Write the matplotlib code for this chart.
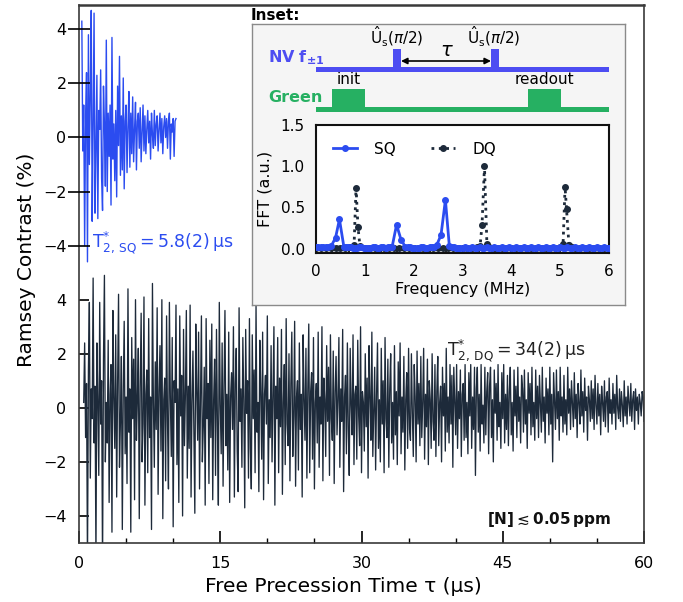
import numpy as np
import matplotlib
matplotlib.use('Agg')
import matplotlib.pyplot as plt
from matplotlib.patches import Rectangle, FancyArrowPatch
from matplotlib.ticker import MultipleLocator

# ---------------- data ----------------
sq_t0, sq_dt = 0.3, 0.1          # us
sq_offset = 10                    # vertical offset of SQ trace (%)
sq_contrast = [
    4.3, -0.5, 1.2, -4.0, 0.8, 2.4, -4.6, 3.8, -1.0, 1.5,
    4.7, -3.1, 0.4, 4.6, -2.8, -0.5, 2.3, -3.0, 1.0, 0.3,
    2.5, -1.5, -2.7, 1.9, 0.5, -1.8, 3.6, -2.0, 0.9, -0.7,
    1.2, -2.5, 3.7, -0.8, 0.5, -1.6, 1.0, -2.2, 1.9, -0.3,
    3.0, -1.4, 0.8, -1.2, 2.2, -1.9, 0.6, 1.2, -1.3, 0.4,
    1.7, -1.1, 0.9, -0.6, 1.5, -0.9, 0.3, 1.3, -1.2, 0.6,
    0.9, -0.4, 1.1, -0.9, 0.2, 1.2, -0.5, 0.8, -0.6, 0.3,
    1.0, -0.2, 0.6, -0.8, 0.9, 0.1, -0.4, 1.0, -0.3, 0.5,
    0.8, -0.5, 0.3, 0.9, -0.2, 0.7, -0.6, 0.4, 0.8, 0.0,
    0.7, -0.4, 0.6, 0.9, -0.8, 0.5, 0.2, 0.7, -0.7, 0.6, 0.7,
]

dq_t0, dq_dt = 0.5, 0.1
dq_contrast = [
    0.2, 2.4, -1.1, 0.9, -5.8, 1.4, 3.9, -2.6, 0.7, -0.4,
    4.8, -1.3, 0.8, -5.6, 2.4, 0.3, -2.5, 3.9, -0.6, 1.0,
    -5.9, 1.8, 4.9, -2.0, 0.2, -1.3, 2.5, -3.5, 0.5, 1.6,
    -4.6, 3.6, 0.4, -1.5, 2.7, -3.3, 0.9, 4.2, -2.2, -0.5,
    1.9, -4.5, 0.6, 3.2, -1.7, 0.4, -2.8, 4.4, -0.9, 0.7,
    -4.6, 2.6, -0.4, 1.8, -3.4, 4.0, -1.2, 0.3, 2.2, -4.1,
    0.8, 3.5, -2.0, -0.6, 4.1, -3.6, 0.5, 1.4, -2.4, 3.3,
    -1.1, 0.4, -4.5, 4.6, 0.2, -2.2, 1.7, -0.8, 3.7, -3.2,
    0.6, 2.3, -1.6, 4.0, -4.1, 0.3, 1.1, -2.7, 3.4, -0.5,
    -3.0, 3.9, 0.4, -1.8, 2.6, -4.4, 1.0, 0.2, 3.8, -2.1,
    0.7, -3.5, 3.4, -0.3, 1.2, -4.0, 2.9, -1.4, 0.5, 3.6,
    -2.6, 0.8, -1.5, 3.8, -3.3, 0.2, 2.1, -0.9, -3.9, 3.1,
    0.6, -1.2, 2.8, -3.0, 0.4, 3.4, -2.0, -0.7, 1.5, -3.6,
    3.3, -0.4, 0.9, -2.8, 2.5, -1.1, 3.1, -3.4, 0.3, 1.8,
    -2.5, 2.9, -0.6, -3.6, 3.9, 0.1, -1.7, 2.4, -2.9, 0.8,
    3.6, -1.4, 0.5, -2.3, 2.8, -3.5, 0.4, 1.3, -0.8, 3.0,
    -3.3, 0.9, 2.2, -1.6, -3.1, 3.7, -0.5, 0.7, -2.2, 2.6,
    0.3, -3.7, 2.9, -0.2, 1.0, -2.6, 3.3, -1.5, -3.0, 2.7,
    -0.4, 1.4, -2.4, 3.8, -0.9, 0.2, -3.1, 2.5, 0.6, -1.9,
    2.8, -3.4, 0.5, 1.2, -0.6, 3.4, -2.8, 0.3, -1.1, 2.3,
    -2.0, 0.6, 3.0, -3.6, 0.8, -0.4, 2.6, -2.4, 1.1, -0.7,
    2.9, -3.2, 0.2, 1.6, -2.1, 3.3, -0.6, -1.4, 2.0, -2.7,
    0.9, 2.8, -1.8, -0.3, 3.2, -2.9, 0.4, 1.0, -2.3, 2.4,
    -0.8, 0.5, -3.3, 2.7, 0.3, -1.2, 2.2, -2.6, 0.7, 3.1,
    -2.4, 0.6, 1.3, -1.9, 2.6, -3.0, 0.2, 0.9, -1.3, 2.8,
    -2.2, 0.4, -0.6, 3.0, -2.7, 1.1, 0.3, -1.8, 2.3, -0.5,
    1.5, -2.5, 2.7, -0.4, -1.2, 2.1, -2.8, 0.6, 1.9, -1.0,
    0.3, 2.6, -2.2, 0.7, -0.5, 2.9, -3.1, 0.4, 1.2, -1.7,
    2.4, -0.8, -2.5, 2.2, 0.1, -1.0, 2.7, -2.1, 0.5, 0.8,
    -1.9, 2.5, -0.3, -1.4, 3.0, -2.4, 0.6, 0.2, -1.6, 2.0,
    -0.7, 1.1, -2.6, 2.3, 0.4, -1.2, 2.8, -1.8, -0.2, 1.5,
    -2.3, 0.5, 2.4, -1.5, 0.3, -2.0, 2.2, -0.6, 1.0, -2.4,
    2.6, -0.4, -1.1, 1.8, -2.2, 0.7, 2.0, -1.3, 0.2, -1.9,
    2.3, -1.0, 0.6, -2.1, 1.7, -0.3, 2.4, -1.7, 0.4, -0.9,
    1.9, -2.3, 0.3, 1.3, -1.5, 2.2, -0.8, -1.2, 2.0, -0.2,
    -1.8, 1.6, 0.4, -2.0, 2.1, -0.6, 0.9, -1.4, 1.9, -1.1,
    0.2, 2.2, -1.9, 0.5, -0.7, 1.8, -2.1, 1.0, 0.3, -1.5,
    2.0, -0.5, -1.2, 1.6, -1.8, 0.6, 1.9, -1.4, 0.2, 0.8,
    -2.0, 1.5, -0.3, 0.9, -1.6, 2.2, -0.9, 0.4, -1.3, 1.6,
    -0.6, 1.2, -2.2, 1.5, 0.3, -1.0, 1.6, -1.5, 0.6, -0.4,
    1.4, -1.8, 0.5, 0.9, -1.2, 1.6, -1.1, 0.2, -1.7, 1.3,
    -0.3, 1.6, -1.5, 0.4, -0.8, 1.5, -2.5, 0.7, 1.5, -0.9,
    0.5, -1.6, 1.6, -0.6, 0.1, -1.3, 1.5, -1.0, 0.6, 1.3,
    -1.7, 0.8, 1.5, -1.1, 0.3, -2.0, 1.4, -0.2, 0.9, -1.2,
    1.6, -0.7, 0.2, -1.5, 1.3, -0.4, 1.6, -1.3, 0.5, -0.8,
    1.2, -1.4, 0.6, 1.5, -1.0, 0.2, -1.6, 1.4, -0.3, 0.8,
    -1.1, 1.5, -0.5, 0.4, -1.3, 1.2, 0.7, -0.9, 1.4, -0.6,
    0.3, -1.5, 1.3, -0.2, 0.9, -1.0, 1.5, -0.7, 0.2, -1.2,
    1.4, -0.4, 0.8, -1.1, 1.2, 0.1, -0.9, 1.5, -0.5, 0.4,
    -1.3, 1.1, -0.2, 0.7, -1.0, 1.5, -0.6, 0.5, -2.0, 1.3,
    0.2, -0.8, 1.4, -0.4, 0.6, -1.2, 1.5, -0.3, 0.4, -0.9,
    1.2, -0.6, 0.3, -1.0, 1.5, -0.2, 0.7, -0.8, 1.0, 0.1,
    -0.7, 1.3, -0.4, 0.5, -1.1, 0.9, 0.2, -0.6, 1.4, -0.3,
    0.6, -0.9, 1.1, -0.1, 0.4, -1.2, 0.8, 0.3, -0.5, 1.0,
    -0.4, 0.7, -0.8, 1.2, 0.1, -0.6, 0.9, -0.3, 0.5, -1.0,
    0.8, 0.2, -0.5, 1.0, -0.7, 0.4, 0.6, -0.9, 1.1, -0.2,
    0.3, -0.6, 0.9, -0.2, 0.5, -0.8, 1.2, 0.0, -0.4, 0.7,
    -0.5, 0.6, 0.1, -0.7, 1.0, -0.3, 0.4, -0.6, 0.8, 0.2,
    -0.3, 0.9, -0.5, 0.3, 0.6, -0.8, 0.7, -0.1, 0.4, -0.6,
    0.5, 0.2, -0.3, 0.6, 0.4, -0.5,
]

# FFT (inset)
sq_freq = [0.00, 0.05, 0.10, 0.15, 0.20, 0.25, 0.31, 0.40, 0.48, 0.57, 0.62, 0.66,
           0.71, 0.75, 0.80, 0.84, 0.89, 0.93, 0.98, 1.02, 1.07, 1.11, 1.16,
           1.20, 1.25, 1.29, 1.34, 1.38, 1.43, 1.47, 1.51, 1.56, 1.65, 1.74,
           1.83, 1.88, 1.92, 1.97, 2.01, 2.06, 2.10, 2.15, 2.19, 2.24, 2.28,
           2.33, 2.37, 2.42, 2.47, 2.56, 2.65, 2.73, 2.78, 2.82, 2.87, 2.91,
           2.95, 3.0, 3.05, 3.1, 3.15, 3.2, 3.25, 3.3, 3.35, 3.4, 3.45, 3.5,
           3.55, 3.6, 3.65, 3.7, 3.75, 3.8, 3.85, 3.9, 3.95, 4.0, 4.05, 4.1,
           4.15, 4.2, 4.25, 4.3, 4.35, 4.4, 4.45, 4.5, 4.55, 4.6, 4.65, 4.7,
           4.75, 4.8, 4.85, 4.9, 4.95, 5.0, 5.05, 5.1, 5.15, 5.2, 5.25, 5.3,
           5.35, 5.4, 5.45, 5.5, 5.55, 5.6, 5.65, 5.7, 5.75, 5.8, 5.85, 5.9,
           5.95, 6.0]
sq_fft = [0.015, 0.02, 0.02, 0.02, 0.02, 0.025, 0.03, 0.13, 0.355, 0.025, 0.02, 0.015,
          0.015, 0.01, 0.01, 0.01, 0.015, 0.015, 0.01, 0.01, 0.01, 0.01, 0.015,
          0.015, 0.01, 0.01, 0.015, 0.015, 0.01, 0.015, 0.02, 0.025, 0.29, 0.11,
          0.02, 0.015, 0.015, 0.01, 0.01, 0.01, 0.01, 0.015, 0.015, 0.01, 0.01,
          0.015, 0.015, 0.02, 0.04, 0.165, 0.59, 0.035, 0.02, 0.015, 0.01, 0.01,
          0.01, 0.01, 0.015, 0.01, 0.01, 0.015, 0.01, 0.01, 0.015, 0.01, 0.01,
          0.015, 0.01, 0.01, 0.015, 0.01, 0.01, 0.015, 0.01, 0.01, 0.015, 0.01,
          0.01, 0.015, 0.01, 0.01, 0.015, 0.01, 0.01, 0.015, 0.01, 0.01, 0.015,
          0.01, 0.01, 0.015, 0.01, 0.01, 0.015, 0.01, 0.01, 0.015, 0.01, 0.01,
          0.015, 0.01, 0.01, 0.015, 0.01, 0.01, 0.015, 0.01, 0.01, 0.015, 0.01,
          0.01, 0.015, 0.01, 0.01, 0.015, 0.01, 0.01]
dq_freq = [0.0, 0.1, 0.2, 0.3, 0.4, 0.5, 0.6, 0.7, 0.78, 0.82, 0.86, 0.90,
           1.0, 1.1, 1.2, 1.3, 1.4, 1.5, 1.6, 1.7, 1.8, 1.9, 2.0, 2.1, 2.2,
           2.3, 2.4, 2.5, 2.6, 2.7, 2.8, 2.9, 3.0, 3.1, 3.2, 3.3,
           3.36, 3.40, 3.45, 3.50, 3.55,
           3.6, 3.7, 3.8, 3.9, 4.0, 4.1, 4.2, 4.3, 4.4, 4.5, 4.6, 4.7, 4.8,
           4.9, 5.0, 5.06, 5.10, 5.13, 5.18, 5.25,
           5.3, 5.4, 5.5, 5.6, 5.7, 5.8, 5.9, 6.0]
dq_fft = [0.005, 0.005, 0.01, 0.01, 0.01, 0.01, 0.01, 0.015, 0.045, 0.74, 0.26, 0.03,
          0.01, 0.005, 0.01, 0.005, 0.01, 0.005, 0.01, 0.005, 0.01, 0.005, 0.01,
          0.005, 0.01, 0.005, 0.01, 0.005, 0.01, 0.005, 0.01, 0.005, 0.01, 0.005,
          0.01, 0.015,
          0.03, 0.29, 1.0, 0.05, 0.015,
          0.01, 0.005, 0.01, 0.005, 0.01, 0.005, 0.01, 0.005, 0.01, 0.005, 0.01,
          0.005, 0.01, 0.01, 0.02, 0.06, 0.75, 0.48, 0.045, 0.015,
          0.01, 0.005, 0.01, 0.005, 0.01, 0.005, 0.01, 0.005]

# ---------------- style ----------------
W, H = 683, 602
SQ_COLOR = '#2b4cf0'
DQ_COLOR = '#1d2a3a'
NV_COLOR = '#4d4df2'
GREEN = '#26b062'
SPINE = '#3a3a3a'
plt.rcParams['font.family'] = ['DejaVu Sans']
plt.rcParams['mathtext.fontset'] = 'dejavusans'


def fx(px):
    return px / W


def fy(py):
    return 1 - py / H


fig = plt.figure(figsize=(W / 100, H / 100), dpi=100)

# ---------------- main axes ----------------
ax = fig.add_axes([fx(79), fy(543), fx(644) - fx(79), fy(5) - fy(543)])
sq_tau = sq_t0 + sq_dt * np.arange(len(sq_contrast))
dq_tau = dq_t0 + dq_dt * np.arange(len(dq_contrast))
ax.plot(dq_tau, dq_contrast, color=DQ_COLOR, lw=0.95, zorder=2)
ax.plot(sq_tau, np.array(sq_contrast) + sq_offset, color=SQ_COLOR, lw=1.0, zorder=3)
ax.set_xlim(0, 60)
ax.set_ylim(-5, 14.9)
ax.xaxis.set_major_locator(MultipleLocator(15))
ax.xaxis.set_minor_locator(MultipleLocator(5))
ax.set_yticks([-4, -2, 0, 2, 4])
ax.tick_params(axis='x', which='major', direction='in', length=8.5, width=1.2,
               pad=9, labelsize=11.5, top=False)
ax.tick_params(axis='x', which='minor', direction='in', length=3.6, width=1.0, top=False)
ax.tick_params(axis='y', which='major', direction='in', length=7.2, width=1.2,
               pad=9, labelsize=11.5, right=False)
for s in ax.spines.values():
    s.set_color(SPINE)
    s.set_linewidth(1.2)
ax.spines['top'].set_linewidth(1.8)

# overlay axes carrying SQ tick labels
ax2 = fig.add_axes(ax.get_position(), sharex=ax)
ax2.set_ylim(ax.get_ylim())
ax2.patch.set_visible(False)
for s in ax2.spines.values():
    s.set_visible(False)
ax2.set_yticks([sq_offset + v for v in [-4, -2, 0, 2, 4]])
ax2.set_yticklabels(['\u22124', '\u22122', '0', '2', '4'])
ax2.tick_params(axis='y', direction='inout', length=15.5, width=1.2, pad=1.2,
                labelsize=11.5)
ax2.tick_params(axis='x', which='both', bottom=False, labelbottom=False)

fig.text(fx(343), fy(586), 'Free Precession Time \u03c4 (\u00b5s)', fontsize=14.5,
         ha='center', va='center')
fig.text(fx(27), fy(260), 'Ramsey Contrast (%)', fontsize=14.5, rotation=90,
         ha='center', va='center')

fig.text(fx(92), fy(247), r'$\mathrm{T}^{*}_{2,\,\mathrm{SQ}} = 5.8(2)\,\mathrm{µs}$',
         color=SQ_COLOR, fontsize=12.5, va='baseline', ha='left')
fig.text(fx(447), fy(355), r'$\mathrm{T}^{*}_{2,\,\mathrm{DQ}} = 34(2)\,\mathrm{µs}$',
         color='#222222', fontsize=12.5, va='baseline', ha='left')
fig.text(fx(611), fy(524), r'$\mathbf{[N]}\lesssim\mathbf{0.05\,ppm}$',
         color='#111111', fontsize=11, va='baseline', ha='right')

# ---------------- inset box with pulse sequence ----------------
fig.text(fx(251), fy(16), 'Inset:', fontsize=11, fontweight='bold', va='center', ha='left')
axs = fig.add_axes([fx(252), fy(305), fx(625) - fx(252), fy(24) - fy(305)])
axs.set_xlim(252, 625)
axs.set_ylim(305, 24)
axs.set_facecolor('#f5f5f5')
axs.set_xticks([])
axs.set_yticks([])
for s in axs.spines.values():
    s.set_color('#8a8a8a')
    s.set_linewidth(1.0)

seq_x0, seq_x1 = 316, 609
nv_base, green_base, lw_px, pulse_h = 66.8, 106.7, 5.6, 17.5
for x0, w in [(seq_x0, seq_x1 - seq_x0), (393.3, 7.7), (491.0, 8.3)]:
    top = nv_base if w > 100 else nv_base - pulse_h
    axs.add_patch(Rectangle((x0, top), w, nv_base + lw_px - top, color=NV_COLOR, lw=0))
for x0, w in [(seq_x0, seq_x1 - seq_x0), (332.3, 32.7), (528.3, 32.4)]:
    top = green_base if w > 100 else green_base - pulse_h
    axs.add_patch(Rectangle((x0, top), w, green_base + lw_px - top, color=GREEN, lw=0))
axs.add_patch(FancyArrowPatch((401, 61), (491, 61), arrowstyle='<|-|>',
                              mutation_scale=9, color='black', lw=1.2,
                              shrinkA=0, shrinkB=0))
axs.text(447, 51, r'$\tau$', fontsize=14, ha='center', va='center')
for xc in (396.5, 494):
    axs.text(xc, 37, r'$\hat{\mathrm{U}}_{\mathrm{s}}(\pi/2)$', fontsize=11,
             ha='center', va='center')
axs.text(268, 62, r'$\mathbf{NV\ f_{\pm 1}}$', color=NV_COLOR, fontsize=11.5,
         ha='left', va='baseline')
axs.text(268, 102, 'Green', color=GREEN, fontsize=11.5, fontweight='bold',
         ha='left', va='baseline')
axs.text(349, 80, 'init', fontsize=11, ha='center', va='center')
axs.text(544, 80, 'readout', fontsize=11, ha='center', va='center')

# ---------------- FFT inset ----------------
axf = fig.add_axes([fx(316), fy(252.7), fx(609) - fx(316), fy(125) - fy(252.7)])
axf.set_facecolor('white')
l_dq, = axf.plot(dq_freq, dq_fft, color=DQ_COLOR, ls=':', lw=2.0, marker='o',
                 ms=4, label='DQ', zorder=2)
l_sq, = axf.plot(sq_freq, sq_fft, color=SQ_COLOR, ls='-', lw=2.0, marker='o',
                 ms=4, label='SQ', zorder=3)
axf.set_xlim(0, 6)
axf.set_ylim(-0.05, 1.5)
axf.xaxis.set_major_locator(MultipleLocator(1))
axf.xaxis.set_minor_locator(MultipleLocator(1 / 3))
axf.set_yticks([0.0, 0.5, 1.0, 1.5])
axf.set_yticklabels(['0.0', '0.5', '1.0', '1.5'])
axf.tick_params(axis='x', which='major', direction='in', length=6, width=1.2,
                pad=8, labelsize=11)
axf.tick_params(axis='x', which='minor', direction='in', length=3.8, width=1.2)
axf.tick_params(axis='y', which='major', direction='in', length=0, pad=8, labelsize=11)
for s in axf.spines.values():
    s.set_color('#111111')
    s.set_linewidth(1.5)
axf.set_xlabel('Frequency (MHz)', fontsize=11.5, labelpad=2)
axf.set_ylabel('FFT (a.u.)', fontsize=11.5, labelpad=6)
axf.legend(handles=[l_sq, l_dq], loc='upper left', bbox_to_anchor=(0.0, 1.0),
           ncol=2, frameon=False, fontsize=11, handlelength=1.6,
           handletextpad=1.1, columnspacing=2.3, borderpad=0.6)

fig.savefig('out.png', dpi=100)
